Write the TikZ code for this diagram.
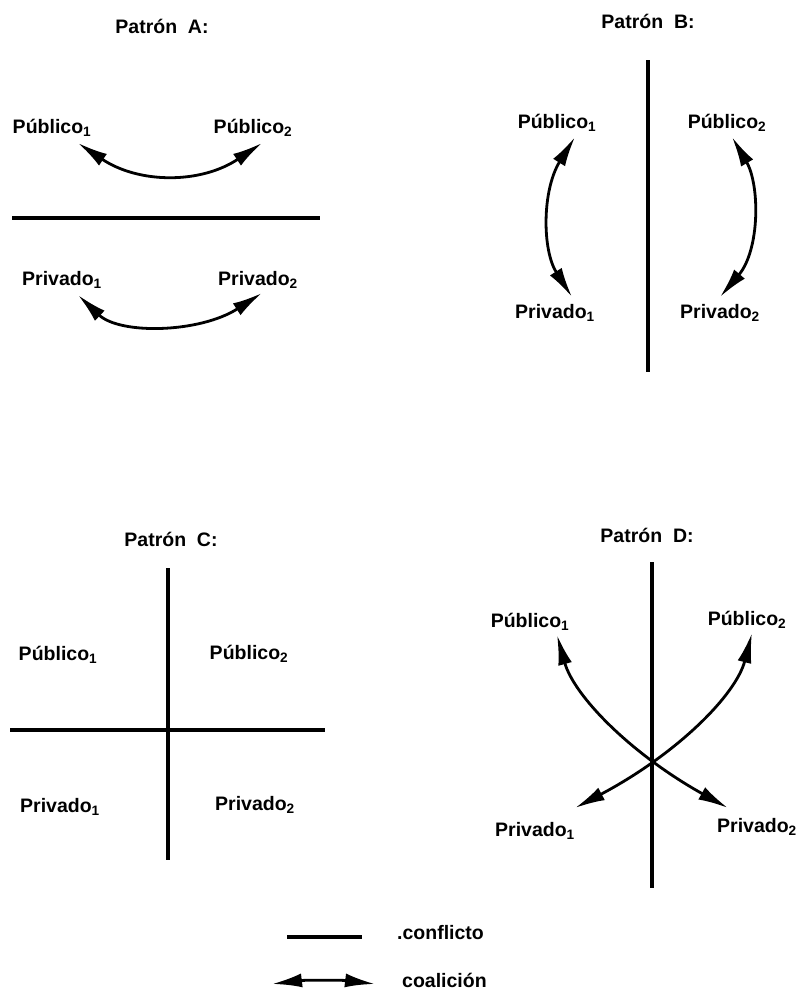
\documentclass[tikz,border=0pt]{standalone}
\usepackage{fontspec}
\setmainfont{Liberation Sans}
\usetikzlibrary{arrows.meta}
\begin{document}
\begin{tikzpicture}[x=1pt,y=-1pt,
  every node/.style={font=\fontsize{19.5}{22}\selectfont\bfseries,inner sep=1pt},
  conflicto/.style={line width=3.2pt},
  coalicion/.style={line width=2.8pt,{Latex[length=30pt,width=14pt]}-{Latex[length=30pt,width=14pt]}}]
  \useasboundingbox (0,0) rectangle (801,993);
  % titulos
  \foreach \n/\t/\p in {tA/A/{(162,26)},tB/B/{(648,21)},tC/C/{(171,539)},tD/D/{(647,535)}}
    \node (\n) at \p {Patrón~~\t:};
  % Patron A
  \node (pubA1) at (52,128) {Público\textsubscript{1}};
  \node (pubA2) at (253,128) {Público\textsubscript{2}};
  \node (privA1) at (62,280) {Privado\textsubscript{1}};
  \node (privA2) at (258,280) {Privado\textsubscript{2}};
  \coordinate (lA1) at (12,218);
  \coordinate (lA2) at (320,218);
  \draw[conflicto] (lA1) -- (lA2);
  \coordinate (a1) at (78,143);
  \coordinate (a2) at (262,143);
  \coordinate (a3) at (78,295);
  \coordinate (a4) at (262,293);
  \draw[coalicion] (a1) .. controls (139,184) and (201,184) .. (a2);
  \draw[coalicion] (a3) .. controls (120,335) and (200,333) .. (a4);
  % Patron B
  \node (pubB1) at (557,123) {Público\textsubscript{1}};
  \node (pubB2) at (727,123) {Público\textsubscript{2}};
  \node (privB1) at (555,313) {Privado\textsubscript{1}};
  \node (privB2) at (720,313) {Privado\textsubscript{2}};
  \coordinate (lB1) at (648,60);
  \coordinate (lB2) at (648,372);
  \draw[conflicto] (lB1) -- (lB2);
  \coordinate (b1) at (575,137);
  \coordinate (b2) at (572,297);
  \coordinate (b3) at (732,137);
  \coordinate (b4) at (720,297);
  \draw[coalicion] (b1) .. controls (542,190) and (542,250) .. (b2);
  \draw[coalicion] (b3) .. controls (760,185) and (760,250) .. (b4);
  % Patron C
  \node (pubC1) at (58,655) {Público\textsubscript{1}};
  \node (pubC2) at (249,654) {Público\textsubscript{2}};
  \node (privC1) at (60,807) {Privado\textsubscript{1}};
  \node (privC2) at (255,805) {Privado\textsubscript{2}};
  \coordinate (lC1) at (10,730);
  \coordinate (lC2) at (325,730);
  \coordinate (lC3) at (168,568);
  \coordinate (lC4) at (168,860);
  \draw[conflicto] (lC1) -- (lC2);
  \draw[conflicto] (lC3) -- (lC4);
  % Patron D
  \node (pubD1) at (530,622) {Público\textsubscript{1}};
  \node (pubD2) at (747,620) {Público\textsubscript{2}};
  \node (privD1) at (535,831) {Privado\textsubscript{1}};
  \node (privD2) at (757,827) {Privado\textsubscript{2}};
  \coordinate (lD1) at (652,562);
  \coordinate (lD2) at (652,888);
  \draw[conflicto] (lD1) -- (lD2);
  \coordinate (d1) at (557,635);
  \coordinate (d2) at (728,808);
  \coordinate (d3) at (752,633);
  \coordinate (d4) at (575,808);
  \draw[coalicion] (d1) .. controls (574,696) and (631,754) .. (d2);
  \draw[coalicion] (d3) .. controls (736,695) and (677,754) .. (d4);
  % leyenda
  \coordinate (g1) at (287,937);
  \coordinate (g2) at (362,937);
  \coordinate (g3) at (272,984);
  \coordinate (g4) at (375,984);
  \draw[conflicto] (g1) -- (g2);
  \draw[coalicion] (g3) .. controls (305,980) and (342,980) .. (g4);
  \node[anchor=west] (conf) at (396,933) {.conflicto};
  \node[anchor=west] (coal) at (401,980) {coalición};
\end{tikzpicture}
\end{document}
